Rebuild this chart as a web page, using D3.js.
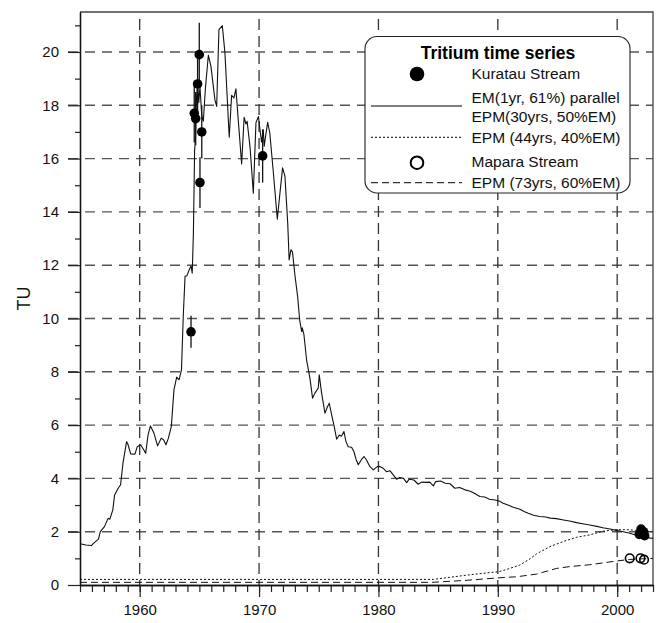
<!DOCTYPE html>
<html>
<head>
<meta charset="utf-8">
<script src="https://cdn.jsdelivr.net/npm/d3@7"></script>
<style>
  html, body { margin: 0; padding: 0; background: #fff; }
  svg { display: block; font-family: "Liberation Sans", Arial, Helvetica, sans-serif; }
</style>
</head>
<body>
<svg id="chart" width="658" height="623"></svg>
<script>
// Tritium (TU) in Kuratau and Mapara streams with lumped-parameter model outputs.

// Model: EM(1yr, 61%) parallel EPM(30yrs, 50%EM) -- [year, TU]
const kuratauModel = [
  [1955.0,1.55],[1955.5,1.50],[1955.95,1.48],[1956.2,1.59],[1956.55,1.72],[1956.7,2.0],
  [1957.05,2.19],[1957.35,2.5],[1957.5,2.47],[1957.75,2.82],[1957.9,3.38],[1958.2,3.63],
  [1958.4,3.76],[1958.6,4.57],[1958.9,5.38],[1959.0,5.3],[1959.25,4.92],[1959.6,4.91],
  [1959.8,5.19],[1960.08,5.26],[1960.3,5.1],[1960.5,4.94],[1960.7,5.63],[1960.9,5.97],
  [1961.2,5.69],[1961.5,5.22],[1961.8,5.51],[1962.0,5.45],[1962.2,5.26],[1962.4,5.5],
  [1962.65,5.95],[1962.87,7.32],[1963.1,7.8],[1963.3,7.7],[1963.5,8.07],[1963.65,10.08],
  [1963.8,11.58],[1963.95,11.6],[1964.15,11.83],[1964.3,11.97],[1964.4,11.7],[1964.5,13.2],
  [1964.6,16.3],[1964.68,16.8],[1964.75,18.2],[1964.85,18.9],[1964.95,18.1],[1965.05,18.7],
  [1965.2,17.6],[1965.33,17.4],[1965.5,18.6],[1965.75,19.88],[1965.97,19.46],[1966.3,18.21],
  [1966.45,17.96],[1966.64,20.84],[1966.92,20.99],[1967.14,19.97],[1967.5,16.8],[1967.7,18.37],
  [1967.9,18.28],[1968.06,18.62],[1968.3,17.2],[1968.54,15.8],[1968.75,17.55],[1968.9,17.3],
  [1969.0,17.4],[1969.25,16.4],[1969.52,14.7],[1969.74,17.35],[1969.95,17.58],[1970.1,17.0],
  [1970.21,16.62],[1970.35,17.08],[1970.43,16.46],[1970.56,16.88],[1970.72,17.36],[1970.9,16.96],
  [1971.2,15.46],[1971.53,13.73],[1971.75,14.71],[1971.97,15.65],[1972.17,15.33],[1972.4,13.58],
  [1972.52,12.2],[1972.67,12.58],[1972.8,12.5],[1973.0,11.64],[1973.23,10.83],[1973.4,9.95],
  [1973.57,9.51],[1973.62,9.65],[1973.76,9.39],[1973.98,8.45],[1974.26,7.76],[1974.48,7.01],
  [1974.68,7.2],[1974.96,7.39],[1975.04,7.89],[1975.24,7.2],[1975.52,6.45],[1975.74,6.7],
  [1975.88,6.82],[1976.08,6.38],[1976.27,6.0],[1976.5,5.47],[1976.72,5.63],[1976.9,5.58],
  [1977.11,5.76],[1977.28,5.38],[1977.47,5.19],[1977.75,5.17],[1977.95,5.0],[1978.12,4.72],
  [1978.31,4.51],[1978.6,4.72],[1978.79,4.82],[1979.0,4.69],[1979.29,4.44],[1979.57,4.32],
  [1979.9,4.44],[1980.1,4.45],[1980.4,4.38],[1980.68,4.25],[1980.96,4.29],[1981.24,4.13],
  [1981.52,3.97],[1981.8,4.03],[1982.1,4.0],[1982.36,3.84],[1982.58,3.97],[1982.97,3.94],
  [1983.33,3.78],[1983.6,3.86],[1984.0,3.85],[1984.3,3.86],[1984.6,3.72],[1984.8,3.88],
  [1985.2,3.9],[1985.6,3.82],[1986.0,3.8],[1986.4,3.63],[1986.8,3.66],[1987.25,3.57],
  [1987.7,3.52],[1988.1,3.42],[1988.5,3.32],[1988.9,3.3],[1989.3,3.22],[1989.77,3.19],
  [1990.1,3.15],[1990.45,3.07],[1990.9,2.99],[1991.3,2.92],[1991.85,2.84],[1992.2,2.76],
  [1992.55,2.69],[1993.0,2.62],[1993.5,2.57],[1994.0,2.55],[1994.4,2.51],[1994.9,2.49],
  [1995.5,2.44],[1996.0,2.4],[1996.6,2.34],[1997.1,2.3],[1997.7,2.25],[1998.3,2.2],
  [1998.8,2.15],[1999.4,2.1],[2000.0,2.04],[2000.5,2.0],[2001.06,1.94],[2001.6,1.87],
  [2002.18,1.79],[2003.0,1.75]
];

// Model: EPM (44yrs, 40%EM) -- [year, TU]
const epm44 = [
  [1955,0.21],[1984.6,0.21],[1986.0,0.29],[1987.4,0.37],[1988.8,0.44],[1990.1,0.5],
  [1991.0,0.62],[1991.8,0.74],[1992.6,0.95],[1993.25,1.17],[1994.36,1.44],[1995.48,1.63],
  [1996.6,1.79],[1997.7,1.88],[1998.83,2.02],[1999.95,2.08],[2001.06,2.07],[2002.2,2.03],
  [2003,2.0]
];

// Model: EPM (73yrs, 60%EM) -- [year, TU]
const epm73 = [
  [1955,0.1],[1984.5,0.1],[1987.2,0.17],[1990.1,0.27],[1991.6,0.31],[1993.25,0.41],
  [1994.9,0.62],[1996.0,0.69],[1997.7,0.76],[1999.95,0.9],[2001.06,0.96],[2003,1.0]
];

// Measurements: [year, TU, error]
const kuratauSamples = [
  [1964.30,9.5,0.6],[1964.57,17.7,1.1],[1964.69,17.5,1.0],[1964.85,18.8,1.1],
  [1964.99,19.9,1.2],[1965.05,15.1,0.95],[1965.20,17.0,1.0],[1970.30,16.1,1.0],
  [2001.85,1.9,0.05],[2002.0,2.1,0.05],[2002.1,1.95,0.05],[2002.3,1.85,0.05],[2002.2,2.0,0.05]
];
const maparaSamples = [
  [2001.05,1.0,0.03],[2001.95,1.0,0.03],[2002.25,0.95,0.03]
];

const yearTicks = [1960, 1970, 1980, 1990, 2000];
const minorYearTicks = d3.range(1955, 2004, 1);
const tuTicks = d3.range(0, 21, 2);
const minorTuTicks = d3.range(1, 22, 2);

const legendTitle = "Tritium time series";
const legendRows = [
  { kind: "filled", text: ["Kuratau Stream"] },
  { kind: "solid", text: ["EM(1yr, 61%) parallel", "EPM(30yrs, 50%EM)"] },
  { kind: "dotted", text: ["EPM (44yrs, 40%EM)"] },
  { kind: "open", text: ["Mapara Stream"] },
  { kind: "dashed", text: ["EPM (73yrs, 60%EM)"] }
];

const svg = d3.select("#chart");
const plotL = 80, plotR = 653, plotT = 12, plotB = 585;

const x = d3.scaleLinear().domain([1955, 2003]).range([plotL, plotR]);
const y = d3.scaleLinear().domain([0, 21.5]).range([plotB, plotT]);

svg.append("defs").append("clipPath").attr("id", "plotClip")
  .append("rect").attr("x", plotL).attr("y", plotT).attr("width", plotR - plotL).attr("height", plotB - plotT);

// grid
const grid = svg.append("g");
grid.selectAll("line.h").data(tuTicks.filter(d => d > 0)).join("line")
  .attr("x1", plotL - 12).attr("x2", plotR)
  .attr("y1", d => y(d)).attr("y2", d => y(d))
  .attr("stroke", "#555").attr("stroke-width", 1.4).attr("stroke-dasharray", "10,7");
grid.selectAll("line.v").data(yearTicks).join("line")
  .attr("x1", d => x(d)).attr("x2", d => x(d))
  .attr("y1", plotT + 7).attr("y2", plotB)
  .attr("stroke", "#333").attr("stroke-width", 1.3).attr("stroke-dasharray", "11,6");

// frame
svg.append("path")
  .attr("d", `M${plotL},${plotT}H${plotR}V${plotB}`)
  .attr("fill", "none").attr("stroke", "#444").attr("stroke-width", 1.3);

// axes
const xMinor = d3.axisBottom(x).tickValues(minorYearTicks).tickSize(7).tickSizeOuter(0).tickFormat("");
const xMajor = d3.axisBottom(x).tickValues(yearTicks).tickSize(12).tickSizeOuter(0).tickPadding(7).tickFormat(d3.format("d"));
const yMinor = d3.axisLeft(y).tickValues(minorTuTicks.filter(d => d < 21.5)).tickSize(5).tickSizeOuter(0).tickFormat("");
const yMajor = d3.axisLeft(y).tickValues(tuTicks).tickSize(12).tickSizeOuter(0).tickPadding(9).tickFormat(d3.format("d"));

function styleAxis(g) {
  g.select(".domain").attr("stroke", "#111").attr("stroke-width", 1.3);
  g.selectAll(".tick line").attr("stroke", "#222").attr("stroke-width", 1.2);
  g.selectAll(".tick text").attr("fill", "#111").style("font-size", "15px")
    .style("font-family", "\"Liberation Sans\", Arial, sans-serif");
}
svg.append("g").attr("transform", `translate(0,${plotB})`).call(xMinor).call(styleAxis);
svg.append("g").attr("transform", `translate(0,${plotB})`).call(xMajor).call(styleAxis);
svg.append("g").attr("transform", `translate(${plotL},0)`).call(yMinor).call(styleAxis);
svg.append("g").attr("transform", `translate(${plotL},0)`).call(yMajor).call(styleAxis);

svg.append("text")
  .attr("transform", `translate(30,${(plotT + plotB) / 2}) rotate(-90)`)
  .attr("text-anchor", "middle")
  .style("font-size", "18px").attr("fill", "#111")
  .text("TU");

// model curves
const line = d3.line().x(d => x(d[0])).y(d => y(d[1]));
const curves = svg.append("g").attr("clip-path", "url(#plotClip)");
curves.append("path").datum(epm73).attr("d", line)
  .attr("fill", "none").attr("stroke", "#111").attr("stroke-width", 1).attr("stroke-dasharray", "7,4");
curves.append("path").datum(epm44).attr("d", line)
  .attr("fill", "none").attr("stroke", "#111").attr("stroke-width", 1).attr("stroke-dasharray", "2,2");
curves.append("path").datum(kuratauModel).attr("d", line)
  .attr("fill", "none").attr("stroke", "#111").attr("stroke-width", 1.1).attr("stroke-linejoin", "round");

// measurements with error bars
const pts = svg.append("g");
pts.selectAll("line.kerr").data(kuratauSamples).join("line")
  .attr("x1", d => x(d[0])).attr("x2", d => x(d[0]))
  .attr("y1", d => y(d[1] - d[2])).attr("y2", d => y(d[1] + d[2]))
  .attr("stroke", "#111").attr("stroke-width", 1.3);
pts.selectAll("circle.k").data(kuratauSamples).join("circle")
  .attr("cx", d => x(d[0])).attr("cy", d => y(d[1])).attr("r", 4.8)
  .attr("fill", "#000");
pts.selectAll("circle.m").data(maparaSamples).join("circle")
  .attr("cx", d => x(d[0])).attr("cy", d => y(d[1])).attr("r", 4.3)
  .attr("fill", "none").attr("stroke", "#000").attr("stroke-width", 1.6);

// legend
const lg = svg.append("g");
lg.append("rect").attr("x", 365).attr("y", 36.5).attr("width", 265).attr("height", 156.5)
  .attr("rx", 12).attr("fill", "#fff").attr("stroke", "#222").attr("stroke-width", 1.1);
lg.append("text").attr("x", 498).attr("y", 58.5).attr("text-anchor", "middle")
  .style("font-size", "17.5px").style("font-weight", "bold").attr("fill", "#000").text(legendTitle);

const rowSymbolY = [74, 106, 137.3, 162.7, 182.7];
const rowTextY = [[79.3], [102.7, 121.7], [143.3], [166.7], [188.3]];
legendRows.forEach((r, i) => {
  const sy = rowSymbolY[i];
  if (r.kind === "filled") {
    lg.append("circle").attr("cx", 417).attr("cy", sy).attr("r", 7.3).attr("fill", "#000");
  } else if (r.kind === "open") {
    lg.append("circle").attr("cx", 417).attr("cy", sy).attr("r", 6.3)
      .attr("fill", "none").attr("stroke", "#000").attr("stroke-width", 2);
  } else {
    const dash = r.kind === "dotted" ? "2,2" : r.kind === "dashed" ? "7,4" : null;
    lg.append("line").attr("x1", 371).attr("x2", 462).attr("y1", sy).attr("y2", sy)
      .attr("stroke", "#000").attr("stroke-width", r.kind === "solid" ? 1.2 : 1)
      .attr("stroke-dasharray", dash);
  }
  r.text.forEach((t, j) => {
    lg.append("text").attr("x", 471.5).attr("y", rowTextY[i][j])
      .style("font-size", "15.5px").attr("fill", "#111").text(t);
  });
});
</script>
</body>
</html>
